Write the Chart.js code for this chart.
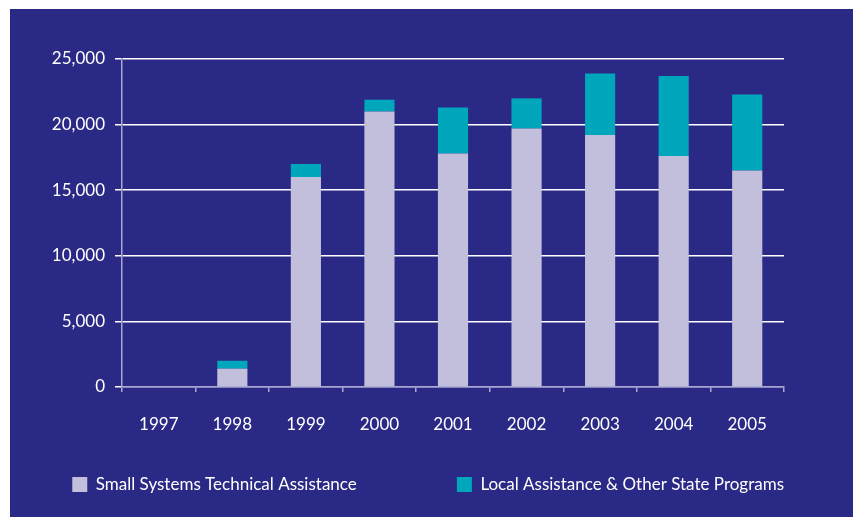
<!DOCTYPE html>
<html>
<head>
<meta charset="utf-8">
<script src="https://cdn.jsdelivr.net/npm/chart.js@4/dist/chart.umd.min.js"></script>
<style>
    html, body { margin: 0; padding: 0; background: #ffffff; }
    #panel {
        position: absolute;
        left: 10px;
        top: 9px;
        width: 843px;
        height: 508px;
        background: #2a2985;
    }
</style>
</head>
<body>
<div id="panel"><canvas id="chart" width="843" height="508"></canvas></div>
<script>
const years = ['1997', '1998', '1999', '2000', '2001', '2002', '2003', '2004', '2005'];
const smallSystems = [0, 1400, 16000, 21000, 17800, 19700, 19200, 17600, 16500];
const localAssistance = [0, 600, 1000, 900, 3500, 2300, 4700, 6100, 5800];
const seriesNames = ['Small Systems Technical Assistance', 'Local Assistance & Other State Programs'];

const LAVENDER = '#c2bfdc';
const TEAL = '#00a7bc';
const AXIS_GREY = '#a9a7d2';
const FONT = 'Lato, "Open Sans", sans-serif';

const ctx = document.getElementById('chart').getContext('2d');

new Chart(ctx, {
    type: 'bar',
    data: {
        labels: years,
        datasets: [
            {
                label: seriesNames[0],
                data: smallSystems,
                backgroundColor: LAVENDER,
                borderWidth: 0
            },
            {
                label: seriesNames[1],
                data: localAssistance,
                backgroundColor: TEAL,
                borderWidth: 0
            }
        ]
    },
    options: {
        responsive: false,
        animation: false,
        datasets: {
            bar: {
                categoryPercentage: 1,
                barPercentage: 0.41
            }
        },
        layout: {
            padding: { top: 50, right: 69, left: 0, bottom: 14 }
        },
        plugins: {
            tooltip: { enabled: false },
            legend: {
                position: 'bottom',
                align: 'end',
                labels: {
                    color: '#ffffff',
                    font: { family: FONT, size: 17 },
                    boxWidth: 15,
                    boxHeight: 15,
                    padding: 0,
                    generateLabels: (chart) => chart.data.datasets.map((ds, i) => ({
                        // trailing spaces widen the gap between the two entries
                        text: i === 0 ? ds.label + '                       ' : ds.label,
                        fillStyle: ds.backgroundColor,
                        strokeStyle: ds.backgroundColor,
                        lineWidth: 0,
                        fontColor: '#ffffff',
                        datasetIndex: i
                    }))
                }
            }
        },
        scales: {
            x: {
                stacked: true,
                afterFit: (scale) => { scale.height = 89; },
                border: { color: AXIS_GREY, width: 1.5 },
                grid: {
                    offset: true,
                    drawOnChartArea: true,
                    tickLength: 5,
                    tickColor: AXIS_GREY,
                    tickWidth: 1.5,
                    lineWidth: 1.5,
                    color: (c) => c.index === years.length ? '#ffffff' : 'rgba(0,0,0,0)'
                },
                ticks: {
                    color: '#ffffff',
                    font: { family: FONT, size: 17 },
                    padding: 22
                }
            },
            y: {
                stacked: true,
                min: 0,
                max: 25000,
                afterFit: (scale) => { scale.width = 112; },
                border: { color: AXIS_GREY, width: 1.5 },
                grid: {
                    color: (c) => c.tick.value === 0 ? AXIS_GREY : '#ffffff',
                    lineWidth: 1.5,
                    tickLength: 7,
                    tickColor: '#ffffff'
                },
                ticks: {
                    stepSize: 5000,
                    color: '#ffffff',
                    font: { family: FONT, size: 17 },
                    padding: 10
                }
            }
        }
    }
});
</script>
</body>
</html>
